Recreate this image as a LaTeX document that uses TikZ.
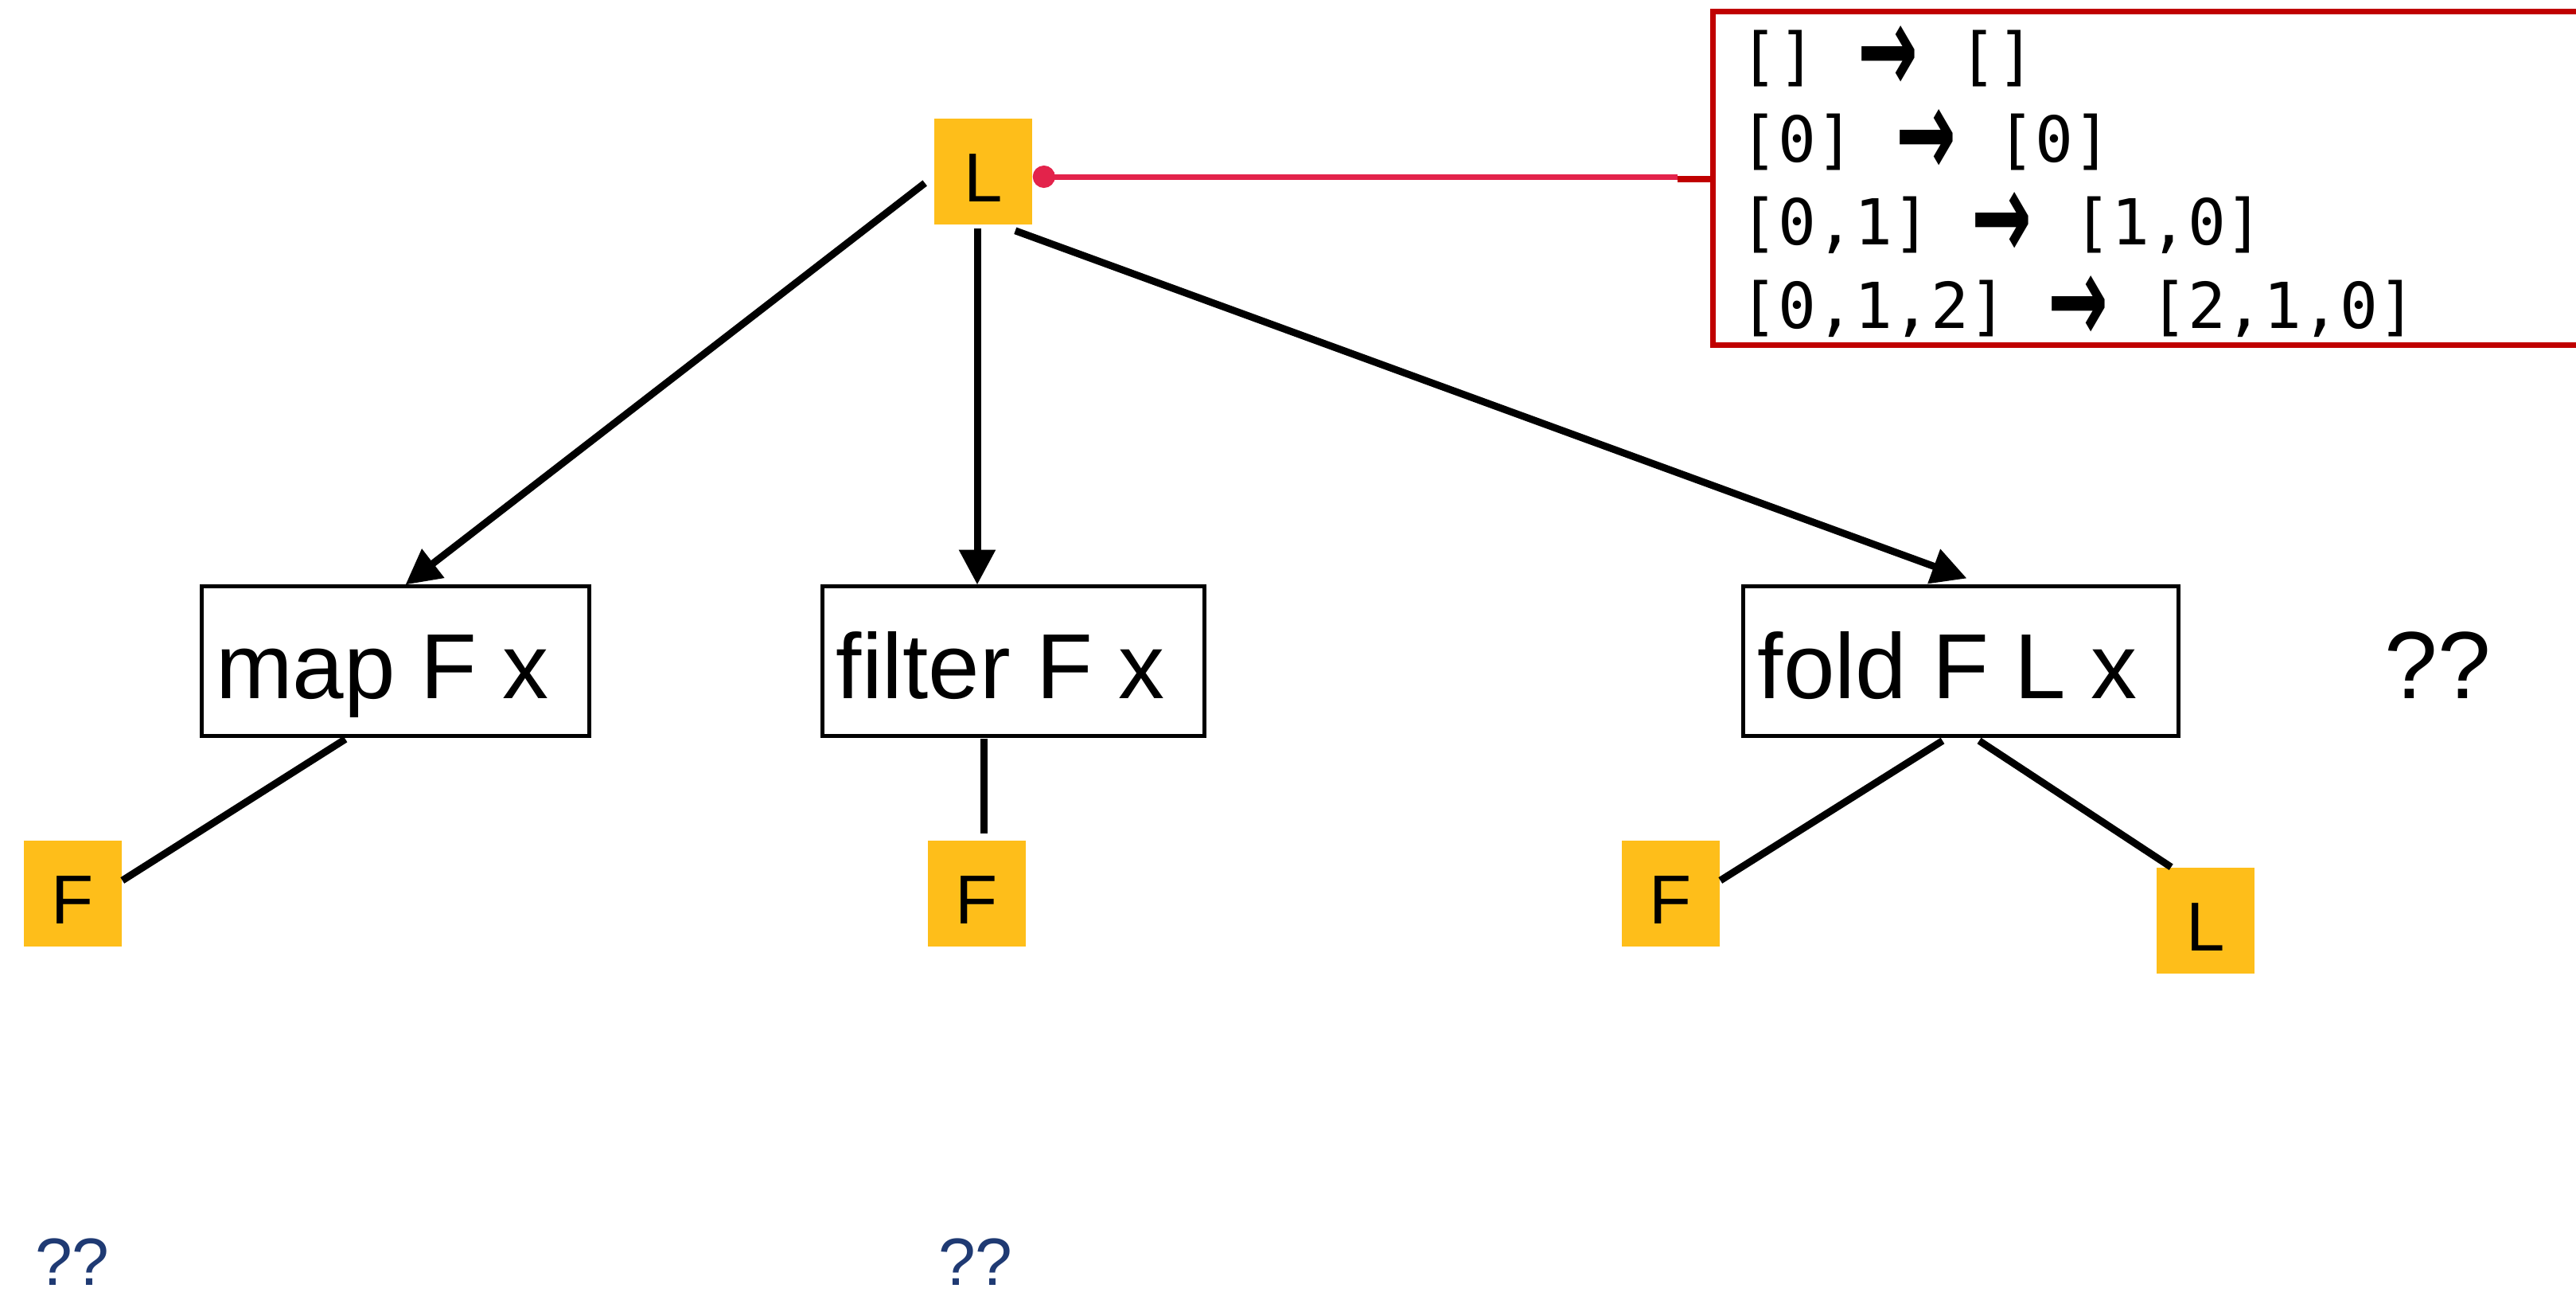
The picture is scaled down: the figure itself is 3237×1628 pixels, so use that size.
\documentclass[tikz,border=0pt]{standalone}
\usepackage{fontspec}
\usepackage{graphicx}
\setmainfont{Liberation Sans}
\newfontfamily\codefont{DejaVu Sans Mono}
\newfontfamily\symfont{DejaVu Sans}
\usetikzlibrary{arrows.meta,calc}
\definecolor{gold}{HTML}{FEBE1A}
\definecolor{pinkred}{HTML}{E3234B}
\definecolor{boxred}{HTML}{C00000}
\definecolor{navy}{HTML}{1F3A73}
% wide bold arrow used between the example lists
\newcommand{\codearrow}{~\makebox[20.75pt]{\raisebox{-4.5pt}{\resizebox{19pt}{21pt}{\symfont\bfseries →}}}~}
\begin{document}
\begin{tikzpicture}[x=0.25pt,y=-0.25pt,
  tag/.style={fill=gold, inner sep=0pt, minimum width=30.75pt, minimum height=33.25pt,
    font=\fontsize{21.75}{24}\selectfont, text height=20pt, text depth=1.2pt},
  opbox/.style={draw, line width=1.25pt, inner sep=0pt, minimum height=47pt,
    font=\fontsize{29}{32}\selectfont, text height=30pt, text depth=6.5pt},
  link/.style={line width=2.25pt},
  flow/.style={link, -{Triangle[length=11pt,width=11pt]}},
  codeline/.style={anchor=base west, inner sep=0pt, font=\codefont\fontsize{19.9}{24}\selectfont},
  qmark/.style={anchor=base, inner sep=0pt},
]
\useasboundingbox (0,0) rectangle (3237,1628);
\fill[white] (0,0) rectangle (3237,1628);
\clip (0,0) rectangle (3237,1628);

% top list node
\node[tag] (Lt) at (1235.5,215.5) {L};

% operations
\node[opbox, minimum width=121.75pt] (mapb) at (496.5,830) {map F x\kern8pt};
\node[opbox, minimum width=120pt] (filb) at (1273,830) {filter F x\kern8pt};
\node[opbox, minimum width=136.75pt] (foldb) at (2463.5,830) {fold F L x\kern8pt};

% arguments
\node[tag] (mapF) at (91.5,1122.5) {F};
\node[tag] (filF) at (1227.5,1122.5) {F};
\node[tag] (foldF) at (2099.5,1122.5) {F};
\node[tag] (foldL) at (2771.5,1156.5) {L};

% open questions
\node[qmark, font=\fontsize{30}{34}\selectfont] (q1) at (3063,877) {??};
\node[qmark, font=\fontsize{21}{24}\selectfont, text=navy] (q2) at (91,1614) {??};
\node[qmark, font=\fontsize{21}{24}\selectfont, text=navy] (q3) at (1226,1614) {??};

% example box
\node[draw=boxred, line width=1.75pt, inner sep=0pt, minimum width=282pt, minimum height=104.75pt] (cbox) at (2716,223.5) {};
\node[codeline] (c1) at (2186,98) {[]\codearrow[]};
\node[codeline] (c2) at (2186,203) {[0]\codearrow[0]};
\node[codeline] (c3) at (2186,307) {[0,1]\codearrow[1,0]};
\node[codeline] (c4) at (2186,412) {[0,1,2]\codearrow[2,1,0]};

% callout
\draw[pinkred, line width=1.75pt, {Circle[length=7pt]}-] ($(Lt.east)+(0,6.5)$) -- ($(cbox.west)+(-41,-1.5)$);
\draw[boxred, line width=2pt] ($(cbox.west)+(-41,1.5)$) -- ($(cbox.west)+(0,1.5)$);

% list to operations
\draw[flow] ($(Lt.west)+(-11,14.5)$) -- ($(mapb.north)+(13,1)$);
\draw[flow] ($(Lt.south)+(-7.5,4)$) -- ($(filb.north)+(-45,1)$);
\draw[flow] ($(Lt.south east)+(-22,7)$) -- ($(foldb.north)+(8,-7)$);

% operations to arguments
\draw[link] ($(mapb.south)+(-62.5,2)$) -- ($(mapF.east)+(0,-16.5)$);
\draw[link] ($(filb.south)+(-37,1)$) -- ($(filF.north)+(8.5,-8)$);
\draw[link] ($(foldb.south)+(-22.5,4)$) -- ($(foldF.east)+(0,-16.5)$);
\draw[link] ($(foldb.south)+(23.5,4)$) -- ($(foldL.north west)+(19,0)$);
\end{tikzpicture}
\end{document}
